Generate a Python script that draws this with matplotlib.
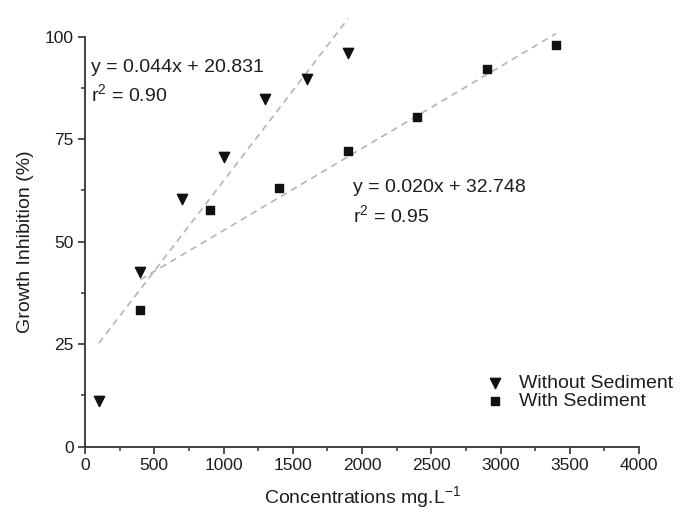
import matplotlib
matplotlib.use("Agg")
import matplotlib.pyplot as plt
import numpy as np
from matplotlib.ticker import MultipleLocator

x_without = [100, 400, 700, 1000, 1300, 1600, 1900]
y_without = [11.2, 42.7, 60.3, 70.6, 84.7, 89.6, 96.1]
x_with = [400, 900, 1400, 1900, 2400, 2900, 3400]
y_with = [33.3, 57.7, 63.1, 72.1, 80.5, 92.1, 97.9]
fit_without = (0.044, 20.831)
fit_with = (0.020, 32.748)
label_without = "Without Sediment"
label_with = "With Sediment"

plt.rcParams['font.family'] = ['Liberation Sans', 'DejaVu Sans']
plt.rcParams['mathtext.fontset'] = 'custom'
plt.rcParams['mathtext.rm'] = 'Liberation Sans'
txt = '#1e1e1e'
fig = plt.figure(figsize=(6.82, 5.12), dpi=100)
ax = fig.add_axes([85/682, 1-446.7/512, (639-85)/682, (446.7-36.7)/512])

gray = '#b5b5b5'
xs = np.array([x_without[0], x_without[-1]])
ax.plot(xs, fit_without[0]*xs + fit_without[1], ls=(0, (4, 3)), color=gray, lw=1.2, clip_on=False, zorder=1)
xs2 = np.array([x_with[0], x_with[-1]])
ax.plot(xs2, fit_with[0]*xs2 + fit_with[1], ls=(0, (4, 3)), color=gray, lw=1.2, clip_on=False, zorder=1)

ax.scatter(x_without, y_without, marker='v', s=55, color='#111111', label=label_without, zorder=3, clip_on=False)
ax.scatter(x_with, y_with, marker='s', s=38, color='#111111', label=label_with, zorder=3, clip_on=False)

ax.set_xlim(0, 4000)
ax.set_ylim(0, 100)
ax.xaxis.set_major_locator(MultipleLocator(500))
ax.xaxis.set_minor_locator(MultipleLocator(250))
ax.yaxis.set_major_locator(MultipleLocator(25))
ax.yaxis.set_minor_locator(MultipleLocator(12.5))
for s in ['top', 'right']:
    ax.spines[s].set_visible(False)
for s in ['left', 'bottom']:
    ax.spines[s].set_linewidth(1.3)
    ax.spines[s].set_color('#333333')
ax.tick_params(which='major', direction='out', length=5, width=1.2, color='#333333', labelsize=12.5, labelcolor=txt, pad=3)
ax.tick_params(which='minor', direction='out', length=3, width=1.1, color='#333333')

ax.set_xlabel('Concentrations mg.L$^{-1}$', fontsize=14, color=txt, labelpad=8)
ax.set_ylabel('Growth Inhibition (%)', fontsize=14, color=txt, labelpad=8)

fs = 14
ax.text(91/682, 1-68/512, 'y = 0.044x + 20.831', transform=fig.transFigure, fontsize=fs, color=txt, va='center', ha='left')
ax.text(91/682, 1-95/512, 'r$^2$ = 0.90', transform=fig.transFigure, fontsize=fs, color=txt, va='center', ha='left')
ax.text(353/682, 1-188/512, 'y = 0.020x + 32.748', transform=fig.transFigure, fontsize=fs, color=txt, va='center', ha='left')
ax.text(353/682, 1-216/512, 'r$^2$ = 0.95', transform=fig.transFigure, fontsize=fs, color=txt, va='center', ha='left')

leg = ax.legend(loc='upper left', bbox_to_anchor=(476/682, 1-365/512), bbox_transform=fig.transFigure,
                frameon=False, fontsize=14, handletextpad=0.7, borderpad=0, labelspacing=0.0, handlelength=1.0)
for t in leg.get_texts():
    t.set_color(txt)

fig.savefig('out.png', dpi=100)
